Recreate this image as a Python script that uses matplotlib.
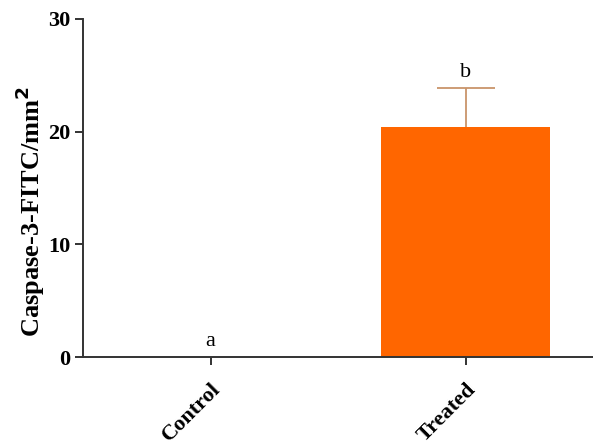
import matplotlib
matplotlib.use("Agg")
import matplotlib.pyplot as plt

# 資料
groups = ["Control", "Treated"]
means = [0.0, 20.4]
errors = [0.0, 3.45]
letters = ["a", "b"]
yticks = [0, 10, 20, 30]

plt.rcParams["font.family"] = ["Liberation Serif", "DejaVu Serif"]

fig = plt.figure(figsize=(5.93, 4.48), dpi=100)
ax = fig.add_axes([0.140, 0.203, 0.860, 0.755])

x = list(range(len(groups)))
ax.bar(x, means, width=0.66, color="#FF6600", edgecolor="none", zorder=2)
eb = ax.errorbar(x[1:], means[1:], yerr=[[0] * (len(groups) - 1), errors[1:]],
                 fmt="none", ecolor="#C9946A", elinewidth=1.3, capsize=21,
                 capthick=1.3, zorder=1)
eb[1][0].set_visible(False)   # 只留上方的 cap

# 顯著性字母
for i, (m, e, s) in enumerate(zip(means, errors, letters)):
    ax.text(i, m + e + 1.0, s, ha="center", va="baseline", fontsize=16)

ax.set_xlim(-0.5, 1.5)
ax.set_ylim(0, 30)
ax.set_yticks(yticks)
ax.set_yticklabels([str(t) for t in yticks], fontsize=16, fontweight="bold")
ax.set_xticks(x)
ax.set_xticklabels(groups, fontsize=16, fontweight="bold", rotation=45,
                   ha="right", va="top", rotation_mode="anchor")
ax.set_ylabel("Caspase-3-FITC/mm$^\\mathbf{2}$", fontsize=19,
              fontweight="bold")
ax.yaxis.set_label_coords(-0.070, 0.43)

for side in ["top", "right"]:
    ax.spines[side].set_visible(False)
for side in ["left", "bottom"]:
    ax.spines[side].set_color("#333333")
    ax.spines[side].set_linewidth(1.4)
ax.tick_params(axis="both", direction="out", length=6, width=1.4,
               color="#333333")
ax.tick_params(axis="x", pad=10)
ax.tick_params(axis="y", pad=3)

fig.savefig("out.png", dpi=100)
